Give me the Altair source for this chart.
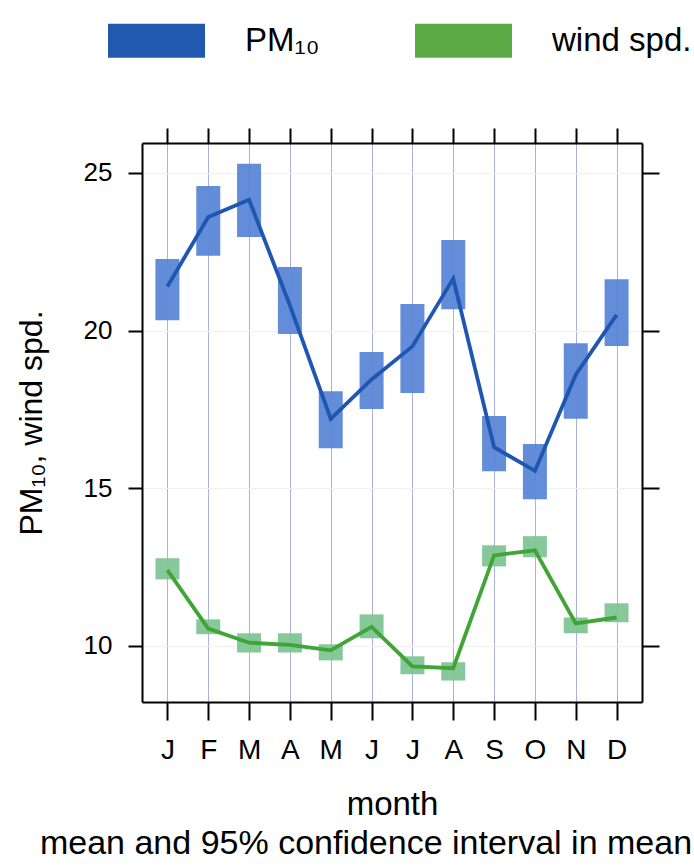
import altair as alt
import pandas as pd

months = list(range(1, 13))
month_labels = ["J", "F", "M", "A", "M", "J", "J", "A", "S", "O", "N", "D"]
series_names = ["PM₁₀", "wind spd."]

pm10_mean = [21.4, 23.6, 24.15, 20.8, 17.2, 18.45, 19.5, 21.65, 16.3, 15.55, 18.6, 20.5]
pm10_lo = [20.33, 22.37, 22.97, 19.89, 16.27, 17.51, 18.02, 20.68, 15.54, 14.65, 17.2, 19.51]
pm10_hi = [22.27, 24.59, 25.29, 22.02, 18.08, 19.32, 20.84, 22.87, 17.29, 16.4, 19.6, 21.63]

ws_mean = [12.4, 10.55, 10.1, 10.03, 9.86, 10.6, 9.35, 9.29, 12.87, 13.03, 10.71, 10.9]
ws_lo = [12.11, 10.37, 9.79, 9.79, 9.54, 10.24, 9.1, 8.9, 12.52, 12.81, 10.4, 10.75]
ws_hi = [12.78, 10.84, 10.4, 10.4, 10.05, 11.0, 9.67, 9.48, 13.19, 13.48, 10.9, 11.35]

swatch_colors = ["#2159b0", "#5aaa46"]
box_colors = ["#5b87d6", "#80c594"]
line_colors = ["#1f56b2", "#3fa535"]

rows = []
for name, mean, lo, hi in [
    (series_names[0], pm10_mean, pm10_lo, pm10_hi),
    (series_names[1], ws_mean, ws_lo, ws_hi),
]:
    for m, a, l, h in zip(months, mean, lo, hi):
        rows.append(dict(series=name, month=m, mean=a, lo=l, hi=h))
df = pd.DataFrame(rows)

FONT = "Liberation Sans"
xscale = alt.Scale(domain=[0.5, 12.5], nice=False, zero=False)
yscale = alt.Scale(domain=[8.22, 25.95], nice=False, zero=False)
label_expr = "[" + ",".join(f"'{m}'" for m in month_labels) + "][round(datum.value) - 1]"

frame = dict(domain=True, domainColor="black", domainWidth=2)

base = alt.Chart(df)

boxes = base.mark_bar(size=24, opacity=0.95).encode(
    x=alt.X(
        "month:Q",
        scale=xscale,
        axis=alt.Axis(
            orient="bottom",
            values=months,
            labelExpr=label_expr,
            title="month",
            grid=True,
            gridColor="#a9b1de",
            gridWidth=1,
            tickColor="black",
            tickWidth=2,
            tickSize=18,
            labelFont=FONT,
            labelFontSize=28,
            labelColor="black",
            labelPadding=16,
            titleFont=FONT,
            titleFontSize=33,
            titleFontWeight="normal",
            titleColor="black",
            titlePadding=24,
            **frame,
        ),
    ),
    y=alt.Y(
        "lo:Q",
        scale=yscale,
        axis=alt.Axis(
            orient="left",
            values=[10, 15, 20, 25],
            title="PM₁₀, wind spd.",
            grid=True,
            gridColor="#eef0f6",
            gridWidth=1,
            tickColor="black",
            tickWidth=2,
            tickSize=14,
            labelFont=FONT,
            labelFontSize=26,
            labelColor="black",
            labelPadding=16,
            titleFont=FONT,
            titleFontSize=32,
            titleFontWeight="normal",
            titleColor="black",
            titlePadding=35,
            **frame,
        ),
    ),
    y2="hi:Q",
    color=alt.Color(
        "series:N",
        scale=alt.Scale(domain=series_names, range=box_colors),
        legend=None,
    ),
)

lines = base.mark_line(strokeWidth=3.8).encode(
    x=alt.X(
        "month:Q",
        scale=xscale,
        axis=alt.Axis(
            orient="top",
            values=months,
            labels=False,
            title=None,
            grid=False,
            tickColor="black",
            tickWidth=2,
            tickSize=15,
            **frame,
        ),
    ),
    y=alt.Y(
        "mean:Q",
        scale=yscale,
        axis=alt.Axis(
            orient="right",
            values=[10, 15, 20, 25],
            labels=False,
            title=None,
            grid=False,
            tickColor="black",
            tickWidth=2,
            tickSize=17,
            **frame,
        ),
    ),
    color=alt.Color(
        "series:N",
        scale=alt.Scale(domain=series_names, range=line_colors),
        legend=None,
    ),
)

legend_layer = base.mark_square(opacity=0, filled=True).encode(
    x=alt.X("month:Q", scale=xscale, axis=None),
    y=alt.Y("mean:Q", scale=yscale, axis=None),
    color=alt.Color(
        "series:N",
        scale=alt.Scale(domain=series_names, range=swatch_colors),
        legend=alt.Legend(
            orient="none",
            legendX=-34,
            legendY=-151,
            direction="horizontal",
            title=None,
            symbolType="M-1,-0.35H1V0.35H-1Z",
            symbolSize=9409,
            symbolOpacity=1,
            symbolStrokeWidth=0,
            labelFont=FONT,
            labelFontSize=33,
            labelColor="black",
            labelOffset=40,
            labelLimit=400,
            columnPadding=95,
            padding=0,
        ),
    ),
)

chart = (
    alt.layer(boxes, lines, legend_layer)
    .resolve_scale(color="independent")
    .resolve_axis(x="independent", y="independent")
    .properties(
        width=500,
        height=559,
        autosize=alt.AutoSizeParams(type="none"),
        padding={"left": 142, "top": 143, "right": 52, "bottom": 164},
        title=alt.Title(
            "mean and 95% confidence interval in mean",
            orient="bottom",
            font=FONT,
            fontSize=34,
            fontWeight="normal",
            color="black",
            dx=-26,
            offset=6,
        ),
    )
    .configure_view(stroke="black", strokeWidth=2)
    .configure(background="white")
)

chart.save("out.html", embed_options={"renderer": "svg", "actions": False})
